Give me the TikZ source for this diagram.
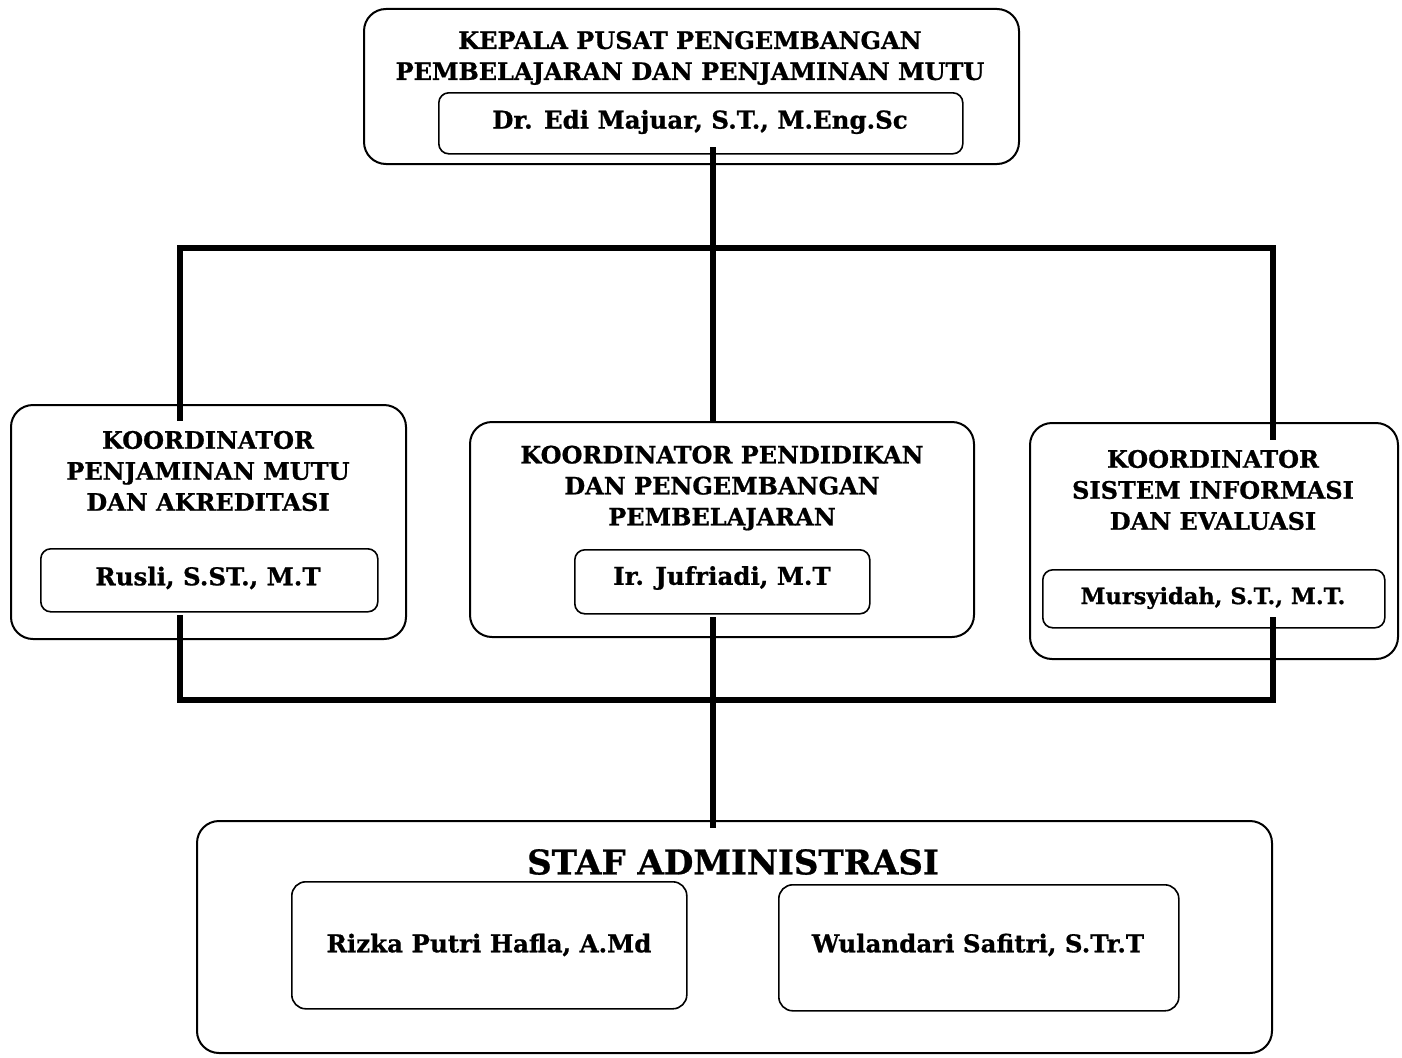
\documentclass[tikz,border=0pt]{standalone}
\usepackage{fontspec}
\setmainfont{DejaVu Serif}[BoldFeatures={FakeBold=0.8}]
\begin{document}
\begin{tikzpicture}[x=1pt,y=-1pt,
  outerbox/.style={draw, line width=2pt, rounded corners=22pt, anchor=north west, inner sep=0pt},
  innerbox/.style={draw, line width=1.6pt, rounded corners=10pt, anchor=north west, inner sep=0pt},
  title/.style={font=\fontsize{24}{31}\selectfont\bfseries, align=center, anchor=center, inner sep=0pt},
  person/.style={font=\fontsize{24.5}{28}\selectfont\bfseries, anchor=center, inner sep=0pt},
  conn/.style={line width=6pt, line cap=rect}]
\useasboundingbox (0,0) rectangle (1402,1057);
\fill[white] (0,0) rectangle (1402,1057);
% top
\node[outerbox, minimum width=655pt, minimum height=155pt] (top) at (363,8) {};
\node[innerbox, minimum width=524pt, minimum height=61pt] (topin) at (438,92) {};
\node[title] (toptxt) at (690,58) {KEPALA PUSAT PENGEMBANGAN\\PEMBELAJARAN DAN PENJAMINAN MUTU};
\node[person] (topname) at (700,122) {Dr. Edi Majuar, S.T., M.Eng.Sc};
% coordinators
\node[outerbox, minimum width=395pt, minimum height=234pt] (k1) at (10,404) {};
\node[innerbox, minimum width=337pt, minimum height=63pt] (k1in) at (40,548) {};
\node[title] (k1txt) at (208,471) {KOORDINATOR\\PENJAMINAN MUTU\\DAN AKREDITASI};
\node[person] (k1name) at (208,578) {Rusli, S.ST., M.T};

\node[outerbox, minimum width=504pt, minimum height=215pt] (k2) at (469,421) {};
\node[innerbox, minimum width=295pt, minimum height=64pt] (k2in) at (574,549) {};
\node[title] (k2txt) at (722,488) {KOORDINATOR PENDIDIKAN\\DAN PENGEMBANGAN\\PEMBELAJARAN};
\node[person] (k2name) at (722,578) {Ir. Jufriadi, M.T};

\node[outerbox, minimum width=368pt, minimum height=236pt] (k3) at (1029,422) {};
\node[innerbox, minimum width=342pt, minimum height=58pt] (k3in) at (1042,569) {};
\node[title] (k3txt) at (1213,490) {KOORDINATOR\\SISTEM INFORMASI\\DAN EVALUASI};
\node[person, font=\fontsize{22.5}{26}\selectfont\bfseries] (k3name) at (1213,598) {Mursyidah, S.T., M.T.};
% staff
\node[outerbox, minimum width=1075pt, minimum height=232pt] (st) at (196,820) {};
\node[font=\fontsize{34}{40}\selectfont\bfseries, inner sep=0pt] (sttxt) at (733,862) {STAF ADMINISTRASI};
\node[innerbox, rounded corners=14pt, minimum width=395pt, minimum height=127pt] (s1) at (291,881) {};
\node[innerbox, rounded corners=14pt, minimum width=400pt, minimum height=126pt] (s2) at (778,884) {};
\node[person] (s1txt) at (489,945) {Rizka Putri Hafla, A.Md};
\node[person] (s2txt) at (978,945) {Wulandari Safitri, S.Tr.T};
% connectors
\coordinate (a0) at (713,150);
\coordinate (b1) at (713,248);
\coordinate (bL) at (180,248);
\coordinate (bR) at (1273,248);
\coordinate (k1t) at (180,418);
\coordinate (k2t) at (713,418);
\coordinate (k3t) at (1273,437);
\coordinate (k1b) at (180,618);
\coordinate (k2b) at (713,620);
\coordinate (k3b) at (1273,620);
\coordinate (cL) at (180,700);
\coordinate (cM) at (713,700);
\coordinate (cR) at (1273,700);
\coordinate (stt) at (713,825);
\draw[conn] (a0) -- (b1);
\draw[conn] (k1t) -- (bL) -- (bR) -- (k3t);
\draw[conn] (b1) -- (k2t);
\draw[conn] (k1b) -- (cL) -- (cR) -- (k3b);
\draw[conn] (k2b) -- (stt);
\end{tikzpicture}
\end{document}
